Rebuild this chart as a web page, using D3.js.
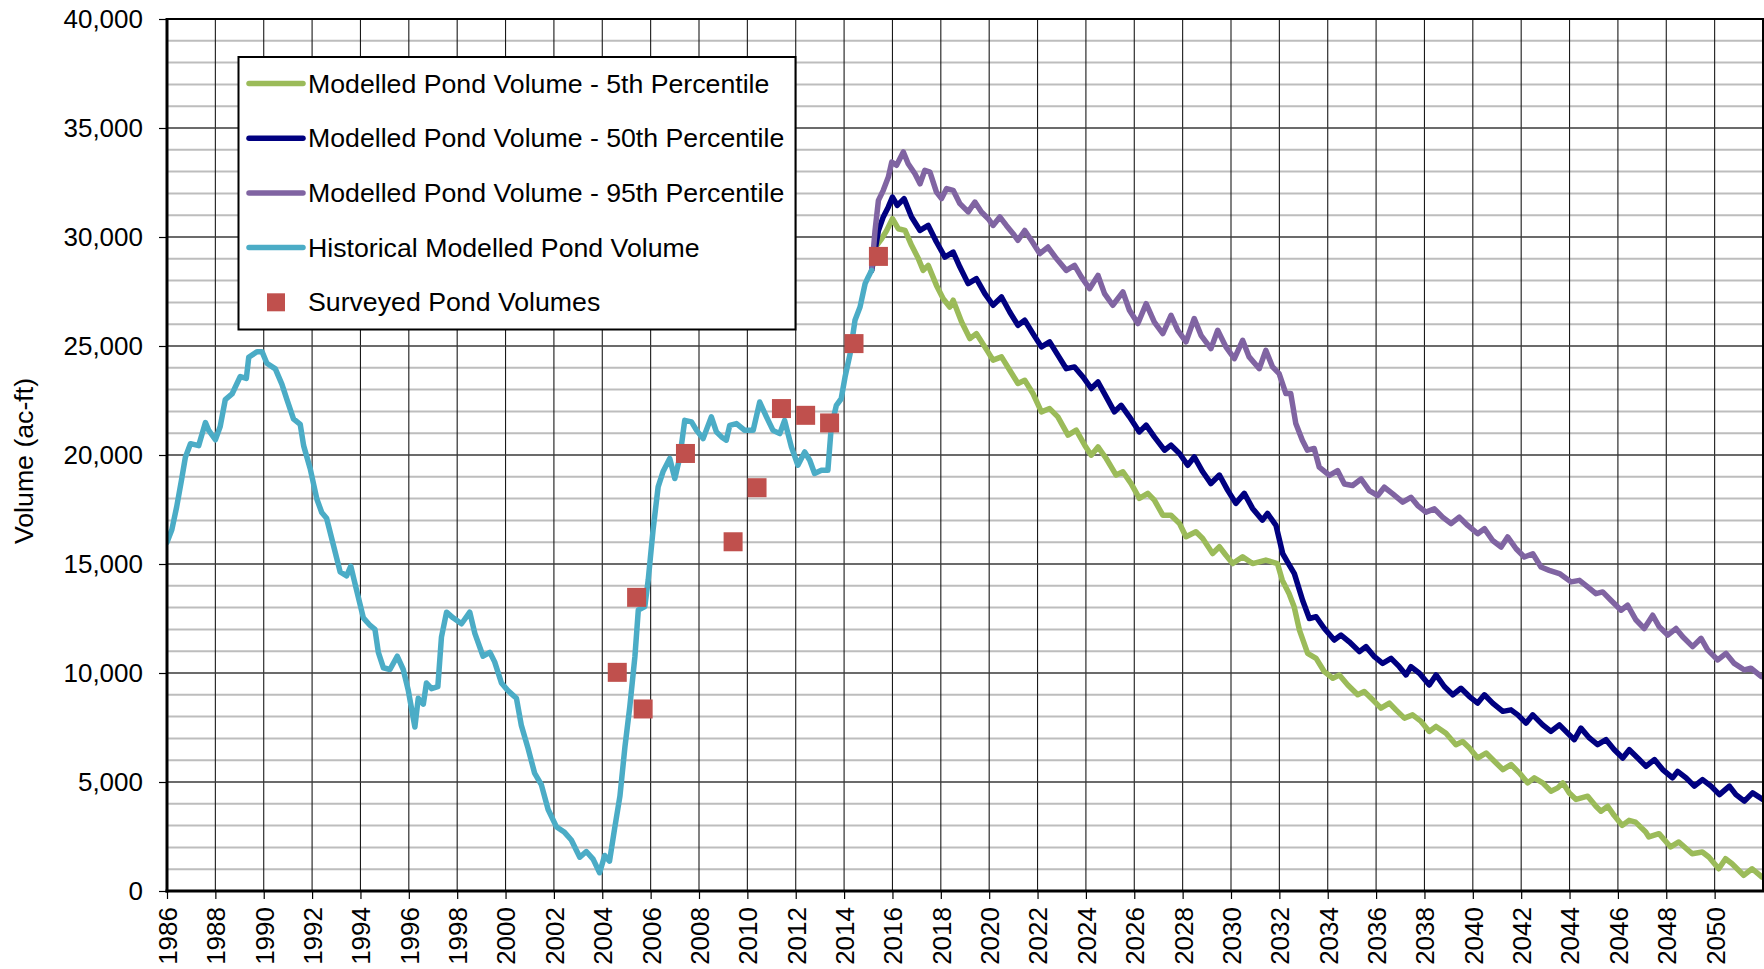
<!DOCTYPE html>
<html>
<head>
<meta charset="utf-8">
<script src="https://cdn.jsdelivr.net/npm/d3@7"></script>
<style>
  html, body { margin: 0; padding: 0; background: #fff; }
  svg { display: block; font-family: "Liberation Sans", Arial, sans-serif; }
</style>
</head>
<body>
<svg id="chart" width="1764" height="969"></svg>
<script>
// ---------------- DATA ----------------
const seriesNames = [
  "Modelled Pond Volume - 5th Percentile",
  "Modelled Pond Volume - 50th Percentile",
  "Modelled Pond Volume - 95th Percentile",
  "Historical Modelled Pond Volume",
  "Surveyed Pond Volumes"
];
const xTickYears = d3.range(1986, 2051, 2);
const yTickValues = d3.range(0, 40001, 5000);

const historical = [
  [1986.0,16000],[1986.2,16570],[1986.4,17620],[1986.6,18850],[1986.76,19900],[1986.97,20520],
  [1987.31,20430],[1987.45,20960],[1987.59,21490],[1987.72,21140],[1988.0,20700],[1988.2,21310],
  [1988.41,22540],[1988.69,22800],[1989.03,23600],[1989.28,23510],[1989.38,24480],[1989.72,24740],
  [1989.93,24740],[1990.13,24210],[1990.48,23950],[1990.75,23250],[1990.96,22540],[1991.23,21660],
  [1991.51,21400],[1991.65,20430],[1991.92,19380],[1992.2,17970],[1992.4,17360],[1992.6,17100],
  [1992.88,15870],[1993.16,14640],[1993.43,14460],[1993.6,14900],[1993.85,13760],[1994.12,12530],
  [1994.4,12180],[1994.6,12000],[1994.74,10950],[1994.95,10240],[1995.22,10160],[1995.52,10770],
  [1995.77,10160],[1995.98,9190],[1996.25,7520],[1996.39,8840],[1996.6,8570],[1996.73,9540],
  [1996.94,9280],[1997.2,9370],[1997.35,11650],[1997.56,12790],[1997.83,12530],[1998.18,12260],
  [1998.52,12790],[1998.73,11820],[1999.07,10770],[1999.35,10950],[1999.55,10510],[1999.83,9540],
  [2000.1,9190],[2000.45,8840],[2000.65,7610],[2000.93,6550],[2001.2,5410],[2001.48,4880],
  [2001.76,3740],[2002.1,2950],[2002.44,2690],[2002.72,2340],[2003.07,1550],[2003.34,1810],
  [2003.62,1460],[2003.89,840],[2004.1,1630],[2004.3,1370],[2004.51,2860],[2004.73,4350],
  [2004.94,6640],[2005.14,8470],[2005.35,10760],[2005.49,12890],[2005.76,13050],[2005.9,14270],
  [2006.1,16560],[2006.31,18540],[2006.51,19230],[2006.79,19840],[2007.0,18920],[2007.21,19910],
  [2007.41,21590],[2007.69,21520],[2007.9,21130],[2008.17,20750],[2008.51,21750],[2008.72,21060],
  [2008.93,20830],[2009.13,20680],[2009.27,21360],[2009.55,21440],[2009.89,21130],[2010.24,21130],
  [2010.51,22430],[2010.79,21750],[2011.06,21130],[2011.34,20980],[2011.54,21590],[2011.82,20370],
  [2012.09,19530],[2012.37,20140],[2012.58,19760],[2012.78,19150],[2013.06,19300],[2013.33,19300],
  [2013.47,21290],[2013.68,22280],[2013.88,22580],[2014.04,23580],[2014.25,24650],[2014.45,26180],
  [2014.66,26790],[2014.87,27860],[2015.0,28170],[2015.14,28470]
];

const p95 = [
  [2015.14,28470],[2015.28,30300],[2015.42,31680],[2015.62,32140],[2015.83,32750],[2015.97,33440],
  [2016.17,33290],[2016.45,33900],[2016.65,33360],[2016.93,32900],[2017.14,32440],[2017.34,33060],
  [2017.55,32980],[2017.82,32060],[2018.03,31760],[2018.24,32220],[2018.51,32140],[2018.79,31530],
  [2019.13,31150],[2019.41,31600],[2019.68,31150],[2019.96,30840],[2020.16,30530],[2020.44,30920],
  [2020.71,30530],[2020.99,30150],[2021.19,29850],[2021.47,30300],[2021.74,29850],[2022.09,29240],
  [2022.43,29540],[2022.78,29010],[2023.19,28470],[2023.53,28700],[2023.81,28170],[2024.15,27630],
  [2024.5,28240],[2024.77,27400],[2025.11,26870],[2025.53,27480],[2025.8,26640],[2026.15,26030],
  [2026.49,26940],[2026.83,26100],[2027.18,25570],[2027.52,26410],[2027.8,25720],[2028.14,25190],
  [2028.48,26260],[2028.76,25490],[2029.17,24880],[2029.45,25720],[2029.79,24960],[2030.14,24420],
  [2030.48,25260],[2030.75,24500],[2031.17,23960],[2031.44,24800],[2031.72,24040],[2031.99,23730],
  [2032.27,22820],[2032.47,22820],[2032.68,21440],[2032.95,20680],[2033.16,20220],[2033.44,20300],
  [2033.65,19440],[2034.07,19060],[2034.41,19280],[2034.69,18670],[2035.03,18600],[2035.38,18900],
  [2035.72,18370],[2036.07,18140],[2036.34,18520],[2036.69,18220],[2037.1,17840],[2037.44,18060],
  [2037.72,17680],[2038.06,17380],[2038.41,17530],[2038.75,17150],[2039.1,16850],[2039.44,17150],
  [2039.79,16770],[2040.2,16390],[2040.48,16620],[2040.82,16080],[2041.17,15780],[2041.44,16240],
  [2041.79,15700],[2042.13,15320],[2042.48,15470],[2042.82,14860],[2043.16,14710],[2043.58,14560],
  [2044.06,14180],[2044.41,14250],[2044.75,13950],[2045.09,13640],[2045.37,13720],[2045.71,13340],
  [2046.13,12880],[2046.4,13110],[2046.75,12430],[2047.09,12040],[2047.44,12650],[2047.71,12120],
  [2048.06,11740],[2048.4,12040],[2048.68,11660],[2049.09,11210],[2049.44,11590],[2049.71,11060],
  [2050.13,10600],[2050.47,10900],[2050.81,10440],[2051.23,10140],[2051.5,10220],[2051.92,9840]
];

const p50 = [
  [2015.14,28470],[2015.42,30300],[2015.62,30920],[2015.83,31380],[2016.0,31830],[2016.2,31450],
  [2016.48,31760],[2016.79,30920],[2017.14,30300],[2017.48,30530],[2017.82,29770],[2018.17,29080],
  [2018.51,29310],[2018.79,28620],[2019.13,27860],[2019.47,28090],[2019.82,27400],[2020.16,26870],
  [2020.51,27250],[2020.85,26560],[2021.19,25950],[2021.47,26180],[2021.81,25570],[2022.16,24960],
  [2022.5,25190],[2022.84,24580],[2023.19,23960],[2023.53,24040],[2023.88,23580],[2024.22,23050],
  [2024.5,23350],[2024.84,22670],[2025.18,21980],[2025.46,22280],[2025.8,21750],[2026.21,21060],
  [2026.49,21370],[2026.83,20830],[2027.25,20220],[2027.52,20450],[2027.87,20070],[2028.21,19530],
  [2028.48,19910],[2028.83,19230],[2029.17,18690],[2029.52,19080],[2029.86,18390],[2030.2,17780],
  [2030.55,18240],[2030.89,17550],[2031.3,17010],[2031.51,17320],[2031.86,16770],[2032.14,15470],
  [2032.34,15090],[2032.62,14560],[2032.96,13340],[2033.24,12500],[2033.52,12580],[2033.86,12040],
  [2034.27,11510],[2034.55,11740],[2034.89,11430],[2035.31,10980],[2035.58,11210],[2035.93,10750],
  [2036.27,10440],[2036.62,10670],[2036.96,10290],[2037.24,9910],[2037.44,10290],[2037.79,9990],
  [2038.2,9450],[2038.48,9910],[2038.82,9380],[2039.17,9000],[2039.51,9300],[2039.86,8920],
  [2040.2,8620],[2040.48,9000],[2040.82,8620],[2041.24,8240],[2041.58,8310],[2041.86,8080],
  [2042.2,7700],[2042.48,8080],[2042.89,7620],[2043.23,7320],[2043.58,7620],[2043.92,7240],
  [2044.2,6940],[2044.47,7470],[2044.82,7020],[2045.16,6710],[2045.51,6940],[2045.85,6480],
  [2046.2,6100],[2046.47,6480],[2046.82,6100],[2047.16,5720],[2047.51,6030],[2047.85,5570],
  [2048.26,5190],[2048.47,5490],[2048.82,5190],[2049.16,4810],[2049.5,5110],[2049.85,4810],
  [2050.2,4420],[2050.61,4810],[2050.88,4420],[2051.23,4120],[2051.57,4500],[2051.99,4200]
];

const p5 = [
  [2015.14,28470],[2015.35,29620],[2015.55,29920],[2015.76,30300],[2016.0,30840],[2016.24,30380],
  [2016.52,30300],[2016.79,29620],[2017.07,29010],[2017.27,28470],[2017.48,28700],[2017.82,27780],
  [2018.1,27170],[2018.37,26790],[2018.51,27100],[2018.86,26100],[2019.2,25340],[2019.47,25570],
  [2019.82,24960],[2020.16,24350],[2020.51,24500],[2020.85,23890],[2021.19,23280],[2021.47,23430],
  [2021.81,22820],[2022.16,21980],[2022.5,22130],[2022.84,21750],[2023.26,20910],[2023.6,21140],
  [2023.95,20450],[2024.22,19990],[2024.5,20370],[2024.84,19840],[2025.25,19080],[2025.53,19230],
  [2025.87,18690],[2026.21,18010],[2026.56,18240],[2026.83,17930],[2027.18,17240],[2027.52,17240],
  [2027.87,16860],[2028.14,16250],[2028.55,16480],[2028.83,16170],[2029.24,15480],[2029.52,15790],
  [2029.79,15400],[2030.07,15020],[2030.48,15330],[2030.89,15020],[2031.44,15180],[2031.92,15020],
  [2032.12,14260],[2032.4,13650],[2032.61,13040],[2032.83,11970],[2033.17,10900],[2033.52,10670],
  [2033.86,10060],[2034.21,9760],[2034.48,9910],[2034.83,9450],[2035.24,9000],[2035.51,9150],
  [2035.86,8770],[2036.2,8390],[2036.55,8620],[2036.82,8310],[2037.17,7930],[2037.51,8080],
  [2037.86,7780],[2038.2,7320],[2038.48,7550],[2038.89,7240],[2039.3,6710],[2039.58,6860],
  [2039.86,6560],[2040.2,6100],[2040.55,6330],[2040.89,5950],[2041.24,5570],[2041.58,5800],
  [2041.92,5420],[2042.27,4960],[2042.54,5190],[2042.89,4960],[2043.23,4580],[2043.51,4730],
  [2043.72,4960],[2043.99,4500],[2044.27,4200],[2044.75,4350],[2045.09,3890],[2045.3,3660],
  [2045.58,3890],[2045.84,3470],[2046.18,3010],[2046.46,3240],[2046.73,3160],[2047.15,2710],
  [2047.28,2480],[2047.7,2630],[2048.18,2020],[2048.52,2250],[2049.07,1710],[2049.49,1790],
  [2049.76,1560],[2050.17,1020],[2050.45,1480],[2050.72,1250],[2051.2,720],[2051.55,1020],
  [2051.96,640]
];

const surveyed = [
  [2004.62,10030],[2005.42,13470],[2005.69,8350],[2007.44,20070],[2009.41,16020],[2010.4,18500],
  [2011.41,22130],[2012.41,21820],[2013.4,21470],[2014.41,25110],[2015.42,29110]
];

const colors = {
  p5: "#9BBB59",
  p50: "#000080",
  p95: "#8064A2",
  hist: "#4BACC6",
  survey: "#C0504D"
};

// ---------------- LAYOUT ----------------
const W = 1764, H = 969;
const plot = { left: 167, top: 19, right: 1763, bottom: 891 };
const FONT = 26;
const LEGEND_FONT = 26.7;

const svg = d3.select("#chart");
svg.append("rect").attr("width", W).attr("height", H).attr("fill", "#fff");

const x = d3.scaleLinear().domain([1986, 2052]).range([plot.left, plot.right]);
const y = d3.scaleLinear().domain([0, 40000]).range([plot.bottom, plot.top]);

// minor horizontal grid (every 1000)
const minorVals = d3.range(1000, 40000, 1000).filter(v => v % 5000 !== 0);
svg.append("g").selectAll("line").data(minorVals).join("line")
  .attr("x1", plot.left).attr("x2", plot.right)
  .attr("y1", d => y(d)).attr("y2", d => y(d))
  .attr("stroke", "#bdbdbd").attr("stroke-width", 2);

// vertical grid (every 2 years)
svg.append("g").selectAll("line").data(xTickYears.filter(d => d > 1986)).join("line")
  .attr("x1", d => x(d)).attr("x2", d => x(d))
  .attr("y1", plot.top).attr("y2", plot.bottom)
  .attr("stroke", "#1a1a1a").attr("stroke-width", 1.1);

// major horizontal grid (every 5000)
svg.append("g").selectAll("line").data(yTickValues.filter(d => d > 0 && d < 40000)).join("line")
  .attr("x1", plot.left).attr("x2", plot.right)
  .attr("y1", d => y(d)).attr("y2", d => y(d))
  .attr("stroke", "#3a3a3a").attr("stroke-width", 1.3);

// clip
svg.append("clipPath").attr("id", "clip").append("rect")
  .attr("x", plot.left).attr("y", plot.top)
  .attr("width", plot.right - plot.left).attr("height", plot.bottom - plot.top);

const line = d3.line().curve(d3.curveLinear).x(d => x(d[0])).y(d => y(d[1]));
const gLines = svg.append("g").attr("clip-path", "url(#clip)");
[[p5, colors.p5], [p50, colors.p50], [p95, colors.p95], [historical, colors.hist]].forEach(([data, c]) => {
  gLines.append("path").datum(data).attr("d", line)
    .attr("fill", "none").attr("stroke", c).attr("stroke-width", 5.5)
    .attr("stroke-linejoin", "round").attr("stroke-linecap", "round");
});

// surveyed squares
const SQ = 19;
gLines.append("g").selectAll("rect").data(surveyed).join("rect")
  .attr("x", d => x(d[0]) - SQ / 2).attr("y", d => y(d[1]) - SQ / 2)
  .attr("width", SQ).attr("height", SQ)
  .attr("fill", colors.survey);

// plot border
svg.append("rect").attr("x", plot.left).attr("y", plot.top)
  .attr("width", plot.right - plot.left).attr("height", plot.bottom - plot.top)
  .attr("fill", "none").attr("stroke", "#000").attr("stroke-width", 2);

// axes
const xAxis = d3.axisBottom(x).tickValues(xTickYears).tickSize(8).tickFormat(d3.format("d"));
const gx = svg.append("g").attr("transform", `translate(0,${plot.bottom})`).call(xAxis);
gx.select(".domain").remove();
gx.selectAll(".tick line").attr("stroke", "#000").attr("stroke-width", 1.2);
gx.selectAll(".tick text")
  .attr("transform", "rotate(-90)")
  .attr("x", -16).attr("y", 0).attr("dy", "0.36em")
  .style("text-anchor", "end")
  .attr("fill", "#000")
  .style("font-size", FONT + "px")
  .style("font-family", '"Liberation Sans", Arial, sans-serif');

const yAxis = d3.axisLeft(y).tickValues(yTickValues).tickSize(8).tickPadding(16).tickFormat(d3.format(","));
const gy = svg.append("g").attr("transform", `translate(${plot.left},0)`).call(yAxis);
gy.select(".domain").remove();
gy.selectAll(".tick line").attr("stroke", "#000").attr("stroke-width", 1.2);
gy.selectAll(".tick text")
  .attr("fill", "#000")
  .style("font-size", FONT + "px")
  .style("font-family", '"Liberation Sans", Arial, sans-serif');

// thick left and bottom axis lines
svg.append("line").attr("x1", plot.left).attr("x2", plot.left)
  .attr("y1", plot.top - 1).attr("y2", plot.bottom + 1.5)
  .attr("stroke", "#000").attr("stroke-width", 3);
svg.append("line").attr("x1", plot.left - 1.5).attr("x2", plot.right + 1)
  .attr("y1", plot.bottom).attr("y2", plot.bottom)
  .attr("stroke", "#000").attr("stroke-width", 3);

// y axis title
svg.append("text")
  .attr("transform", `translate(24,${(plot.top + plot.bottom) / 2 + 6}) rotate(-90)`)
  .attr("text-anchor", "middle").attr("dominant-baseline", "central")
  .style("font-size", LEGEND_FONT + "px").attr("fill", "#000")
  .text("Volume (ac-ft)");

// legend
const lg = svg.append("g");
const lgBox = { x: 238.5, y: 57, w: 557, h: 272.5 };
lg.append("rect").attr("x", lgBox.x).attr("y", lgBox.y).attr("width", lgBox.w).attr("height", lgBox.h)
  .attr("fill", "#fff").attr("stroke", "#000").attr("stroke-width", 2);
const lgColors = [colors.p5, colors.p50, colors.p95, colors.hist, colors.survey];
const rowY = [83.5, 138.2, 192.9, 247.6, 302.3];
seriesNames.forEach((name, i) => {
  const yy = rowY[i];
  if (i < 4) {
    lg.append("line").attr("x1", 249).attr("x2", 303).attr("y1", yy).attr("y2", yy)
      .attr("stroke", lgColors[i]).attr("stroke-width", 5.5).attr("stroke-linecap", "round");
  } else {
    lg.append("rect").attr("x", 276 - 9).attr("y", yy - 9).attr("width", 18).attr("height", 18)
      .attr("fill", lgColors[i]);
  }
  lg.append("text").attr("x", 308).attr("y", yy).attr("dominant-baseline", "central")
    .style("font-size", LEGEND_FONT + "px").attr("fill", "#000").text(name);
});
</script>
</body>
</html>
